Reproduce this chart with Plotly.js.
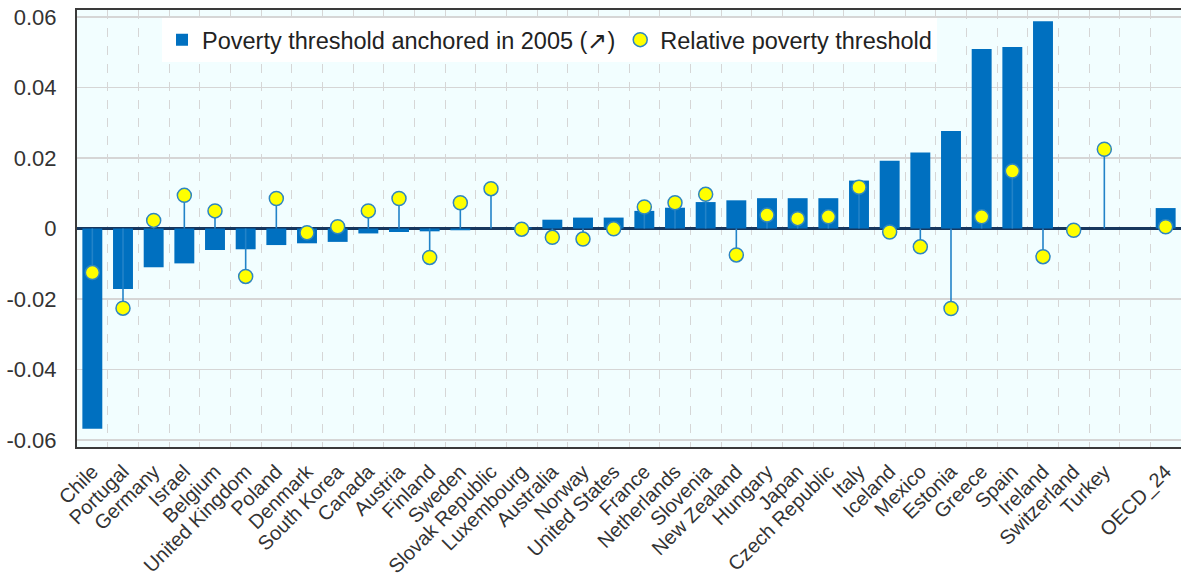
<!DOCTYPE html>
<html><head><meta charset="utf-8">
<script src="https://cdn.plot.ly/plotly-3.0.1.min.js"></script>
<style>html,body{margin:0;padding:0;background:#fff}#chart{width:1181px;height:580px}</style>
</head><body><div id="chart"></div><script>
const categories = ["Chile","Portugal","Germany","Israel","Belgium","United Kingdom","Poland","Denmark","South Korea","Canada","Austria","Finland","Sweden","Slovak Republic","Luxembourg","Australia","Norway","United States","France","Netherlands","Slovenia","New Zealand","Hungary","Japan","Czech Republic","Italy","Iceland","Mexico","Estonia","Greece","Spain","Ireland","Switzerland","Turkey"," ","OECD_24"];
const anchored2005 = [-0.0568,-0.0172,-0.0110,-0.0099,-0.0061,-0.0059,-0.0047,-0.0042,-0.0038,-0.0014,-0.0010,-0.0008,-0.0005,0.0,0.0003,0.0025,0.0031,0.0031,0.0050,0.0059,0.0075,0.0080,0.0086,0.0086,0.0086,0.0136,0.0192,0.0216,0.0277,0.0509,0.0515,0.0588,0.0,0.0,null,0.0058];
const relativeThreshold = [-0.0125,-0.0226,0.0023,0.0094,0.0050,-0.0136,0.0085,-0.0012,0.0005,0.0050,0.0085,-0.0082,0.0073,0.0113,-0.0002,-0.0025,-0.0030,-0.0001,0.0061,0.0073,0.0097,-0.0075,0.0038,0.0028,0.0033,0.0117,-0.0010,-0.0052,-0.0227,0.0033,0.0163,-0.0080,-0.0005,0.0225,null,0.0005];
const yTickVals = [-0.06,-0.04,-0.02,0,0.02,0.04,0.06];
const yTickText = ["-0.06","-0.04","-0.02","0","0.02","0.04","0.06"];

const barTrace = {
  type: 'bar', name: 'Poverty threshold anchored in 2005 (\u2197)',
  x: categories, y: anchored2005, width: 0.65,
  marker: {color: '#0070C0'}, hoverinfo: 'x+y'
};
const relTrace = {
  type: 'scatter', mode: 'markers', name: 'Relative poverty threshold',
  x: categories, y: relativeThreshold,
  marker: {color: '#FFFF00', size: 14, line: {color: '#2E86C1', width: 1.5}},
  error_y: {
    type: 'data', symmetric: false,
    array: relativeThreshold.map(v => v === null ? null : (v < 0 ? -v : 0)),
    arrayminus: relativeThreshold.map(v => v === null ? null : (v > 0 ? v : 0)),
    width: 0, thickness: 1.6, color: '#2283C8'
  }
};
const layout = {
  width: 1181, height: 580,
  margin: {l: 77, r: 0, t: 10, b: 133},
  paper_bgcolor: '#ffffff', plot_bgcolor: '#F2FEFF',
  font: {family: 'Liberation Sans, Arial, sans-serif', color: '#333'},
  showlegend: true,
  legend: {orientation: 'h', x: 0.077, y: 0.982, xanchor: 'left', yanchor: 'top',
    bgcolor: '#ffffff', font: {size: 23.5, color: '#222'}, itemwidth: 30},
  xaxis: {type: 'category', range: [-0.5, 35.5], tickson: 'boundaries',
    showgrid: true, gridcolor: '#d6d6d6', griddash: 'dash', gridwidth: 1,
    tickangle: -45, tickfont: {size: 20, color: '#333'}, ticks: '', ticklabelstandoff: 3,
    showline: true, mirror: true, linecolor: '#3a3a3a', linewidth: 2, fixedrange: true},
  yaxis: {range: [-0.062, 0.062], tickvals: yTickVals, ticktext: yTickText,
    showgrid: true, gridcolor: '#d6d6d6', gridwidth: 1.5,
    zeroline: true, zerolinecolor: '#17375E', zerolinewidth: 3,
    tickfont: {size: 22, color: '#333'}, ticks: '', ticklabelstandoff: 14,
    showline: true, linecolor: '#3a3a3a', linewidth: 2, fixedrange: true}
};
Plotly.newPlot('chart', [barTrace, relTrace], layout, {displayModeBar: false, staticPlot: true});
</script></body></html>
